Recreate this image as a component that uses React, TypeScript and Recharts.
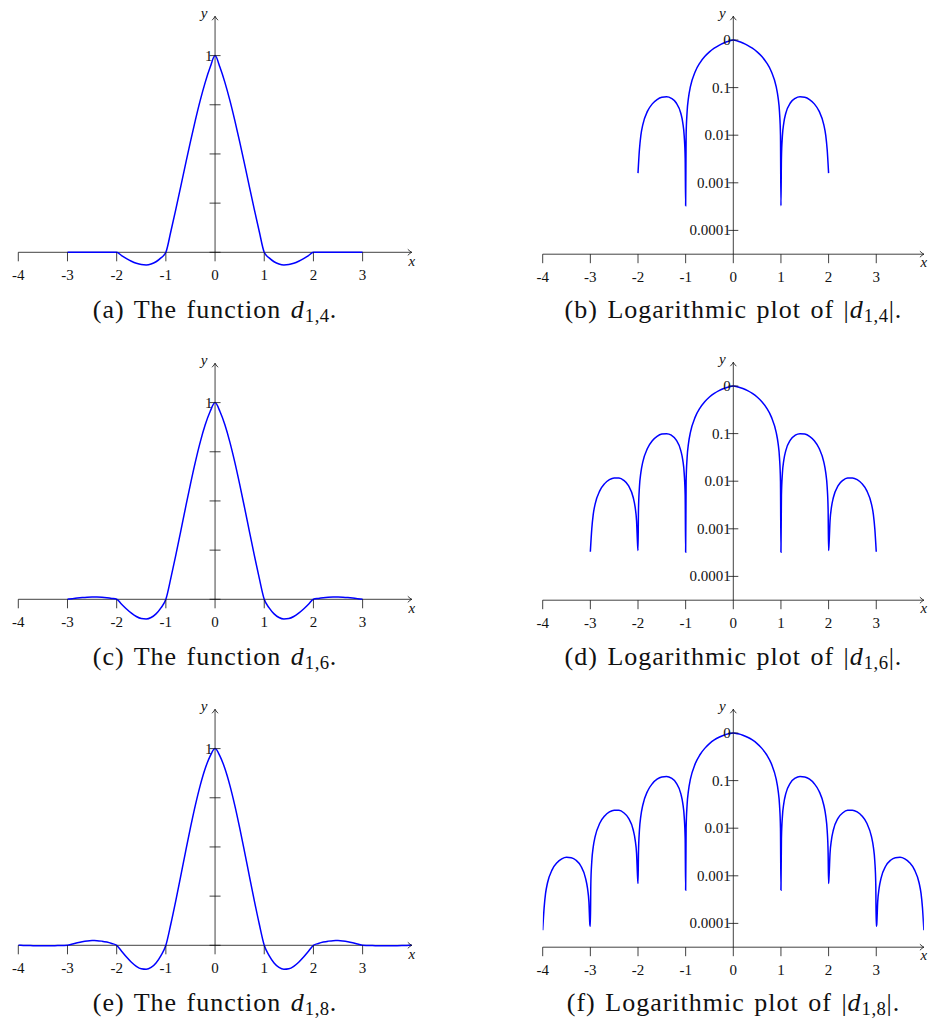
import React from "react";
import { LineChart, Line, XAxis, YAxis, ReferenceLine, ReferenceDot } from "recharts";

const SERIF = '"Liberation Serif", "Times New Roman", serif';
const INK = "#111";
const BLUE = "#0000ff";

// sample grid for the plain plots
const gridX = [
  -4, -3.9, -3.8, -3.7, -3.6, -3.5, -3.4, -3.3, -3.2, -3.1,
  -3, -2.9, -2.8, -2.7, -2.6, -2.5, -2.4, -2.3, -2.2, -2.1,
  -2, -1.9, -1.8, -1.7, -1.6, -1.5, -1.4, -1.3, -1.2, -1.1,
  -1, -0.9, -0.8, -0.7, -0.6, -0.5, -0.4, -0.3, -0.2, -0.1,
  0,
  0.1, 0.2, 0.3, 0.4, 0.5, 0.6, 0.7, 0.8, 0.9, 1,
  1.1, 1.2, 1.3, 1.4, 1.5, 1.6, 1.7, 1.8, 1.9, 2,
  2.1, 2.2, 2.3, 2.4, 2.5, 2.6, 2.7, 2.8, 2.9, 3,
  3.1, 3.2, 3.3, 3.4, 3.5, 3.6, 3.7, 3.8, 3.9, 4,
];

const d14 = [
  null, null, null, null, null, null, null, null, null, null,
  0, 0, 0, 0, 0, 0, 0, 0, 0, 0,
  0, -0.0165, -0.032, -0.0455, -0.056, -0.0625, -0.064, -0.0595, -0.048, -0.0285,
  0, 0.1045, 0.216, 0.3315, 0.448, 0.5625, 0.672, 0.7735, 0.864, 0.9405,
  1,
  0.9405, 0.864, 0.7735, 0.672, 0.5625, 0.448, 0.3315, 0.216, 0.1045, 0,
  -0.0285, -0.048, -0.0595, -0.064, -0.0625, -0.056, -0.0455, -0.032, -0.0165, 0,
  0, 0, 0, 0, 0, 0, 0, 0, 0, 0,
  null, null, null, null, null, null, null, null, null, null,
];

const d16 = [
  null, null, null, null, null, null, null, null, null, null,
  0, 0.003292, 0.006336, 0.008895, 0.010752, 0.011719, 0.011648, 0.010442, 0.008064, 0.004546,
  0, -0.02512, -0.04928, -0.07064, -0.08736, -0.09766, -0.09984, -0.09237, -0.07392, -0.04339,
  0, 0.10607, 0.22176, 0.3431, 0.46592, 0.58594, 0.69888, 0.80057, 0.88704, 0.95461,
  1,
  0.95461, 0.88704, 0.80057, 0.69888, 0.58594, 0.46592, 0.3431, 0.22176, 0.10607, 0,
  -0.04339, -0.07392, -0.09237, -0.09984, -0.09766, -0.08736, -0.07064, -0.04928, -0.02512, 0,
  0.004546, 0.008064, 0.010442, 0.011648, 0.011719, 0.010752, 0.008895, 0.006336, 0.003292, 0,
  null, null, null, null, null, null, null, null, null, null,
];

const d18 = [
  0, -0.000705, -0.001352, -0.001887, -0.002263, -0.002441, -0.002396, -0.002116, -0.001605, -0.000885,
  0, 0.006633, 0.012841, 0.018102, 0.021934, 0.023926, 0.023762, 0.021153, 0.016343, 0.00916,
  0, -0.03037, -0.05992, -0.08625, -0.10693, -0.11963, -0.1222, -0.11279, -0.08989, -0.05246,
  0, 0.10686, 0.22472, 0.34911, 0.47524, 0.59815, 0.71286, 0.81458, 0.89887, 0.96177,
  1,
  0.96177, 0.89887, 0.81458, 0.71286, 0.59815, 0.47524, 0.34911, 0.22472, 0.10686, 0,
  -0.05246, -0.08989, -0.11279, -0.1222, -0.11963, -0.10693, -0.08625, -0.05992, -0.03037, 0,
  0.00916, 0.016343, 0.021153, 0.023762, 0.023926, 0.021934, 0.018102, 0.012841, 0.006633, 0,
  -0.000885, -0.001605, -0.002116, -0.002396, -0.002441, -0.002263, -0.001887, -0.001352, -0.000705, 0,
];

// |d| on a grid that is denser next to the zeros
const logX14 = [
  -2, -1.97, -1.94, -1.9, -1.8, -1.7, -1.6, -1.5, -1.4, -1.3, -1.2, -1.1, -1.06, -1.03, -1.01,
  -1, -0.99, -0.97, -0.94, -0.9, -0.8, -0.7, -0.6, -0.5, -0.4, -0.3, -0.2, -0.1,
  0,
  0.1, 0.2, 0.3, 0.4, 0.5, 0.6, 0.7, 0.8, 0.9, 0.94, 0.97, 0.99, 1,
  1.01, 1.03, 1.06, 1.1, 1.2, 1.3, 1.4, 1.5, 1.6, 1.7, 1.8, 1.9, 1.94, 1.97, 2,
];
const logY14 = [
  0.0016, 0.005, 0.00996, 0.0165, 0.032, 0.0455, 0.056, 0.0625, 0.064, 0.0595, 0.048, 0.0285, 0.01824, 0.00956, 0.00328,
  0.00033, 0.01005, 0.0304, 0.0617, 0.1045, 0.216, 0.3315, 0.448, 0.5625, 0.672, 0.7735, 0.864, 0.9405,
  1,
  0.9405, 0.864, 0.7735, 0.672, 0.5625, 0.448, 0.3315, 0.216, 0.1045, 0.0617, 0.0304, 0.01005, 0.00033,
  0.00328, 0.00956, 0.01824, 0.0285, 0.048, 0.0595, 0.064, 0.0625, 0.056, 0.0455, 0.032, 0.0165, 0.00996, 0.005, 0.0016,
];

const logX16 = [
  -3, -2.97, -2.94, -2.9, -2.8, -2.7, -2.6, -2.5, -2.4, -2.3, -2.2, -2.1, -2.06, -2.03, -2.01,
  -2, -1.99, -1.97, -1.94, -1.9, -1.8, -1.7, -1.6, -1.5, -1.4, -1.3, -1.2, -1.1, -1.06, -1.03, -1.01,
  -1, -0.99, -0.97, -0.94, -0.9, -0.8, -0.7, -0.6, -0.5, -0.4, -0.3, -0.2, -0.1,
  0,
  0.1, 0.2, 0.3, 0.4, 0.5, 0.6, 0.7, 0.8, 0.9, 0.94, 0.97, 0.99, 1,
  1.01, 1.03, 1.06, 1.1, 1.2, 1.3, 1.4, 1.5, 1.6, 1.7, 1.8, 1.9, 1.94, 1.97, 1.99, 2,
  2.01, 2.03, 2.06, 2.1, 2.2, 2.3, 2.4, 2.5, 2.6, 2.7, 2.8, 2.9, 2.94, 2.97, 3,
];
const logY16 = [
  0.00033, 0.000999, 0.001991, 0.003292, 0.006336, 0.008895, 0.01075, 0.01172, 0.01165, 0.01044, 0.008064, 0.004546, 0.002842, 0.001461, 0.000496,
  0.00035, 0.0025, 0.00753, 0.01509, 0.02512, 0.04928, 0.07064, 0.08736, 0.09766, 0.09984, 0.09237, 0.07392, 0.04339, 0.02761, 0.0144, 0.004933,
  0.00032, 0.01007, 0.03058, 0.06227, 0.1061, 0.2218, 0.3431, 0.4659, 0.5859, 0.6989, 0.8006, 0.887, 0.9546,
  1,
  0.9546, 0.887, 0.8006, 0.6989, 0.5859, 0.4659, 0.3431, 0.2218, 0.1061, 0.06227, 0.03058, 0.01007, 0.00032,
  0.004933, 0.0144, 0.02761, 0.04339, 0.07392, 0.09237, 0.09984, 0.09766, 0.08736, 0.07064, 0.04928, 0.02512, 0.01509, 0.00753, 0.0025, 0.00035,
  0.000496, 0.001461, 0.002842, 0.004546, 0.008064, 0.01044, 0.01165, 0.01172, 0.01075, 0.008895, 0.006336, 0.003292, 0.001991, 0.000999, 0.00033,
];

const logX18 = [
  -4, -3.97, -3.94, -3.9, -3.8, -3.7, -3.6, -3.5, -3.4, -3.3, -3.2, -3.1, -3.06, -3.03, -3.01,
  -3, -2.99, -2.97, -2.94, -2.9, -2.8, -2.7, -2.6, -2.5, -2.4, -2.3, -2.2, -2.1, -2.06, -2.03, -2.01,
  -2, -1.99, -1.97, -1.94, -1.9, -1.8, -1.7, -1.6, -1.5, -1.4, -1.3, -1.2, -1.1, -1.06, -1.03, -1.01,
  -1, -0.99, -0.97, -0.94, -0.9, -0.8, -0.7, -0.6, -0.5, -0.4, -0.3, -0.2, -0.1,
  0,
  0.1, 0.2, 0.3, 0.4, 0.5, 0.6, 0.7, 0.8, 0.9, 0.94, 0.97, 0.99, 1,
  1.01, 1.03, 1.06, 1.1, 1.2, 1.3, 1.4, 1.5, 1.6, 1.7, 1.8, 1.9, 1.94, 1.97, 1.99, 2,
  2.01, 2.03, 2.06, 2.1, 2.2, 2.3, 2.4, 2.5, 2.6, 2.7, 2.8, 2.9, 2.94, 2.97, 2.99, 3,
  3.01, 3.03, 3.06, 3.1, 3.2, 3.3, 3.4, 3.5, 3.6, 3.7, 3.8, 3.9, 3.94, 3.97, 4,
];
const logY18 = [
  0.000072, 0.000214, 0.000426, 0.000705, 0.001352, 0.001887, 0.002263, 0.002441, 0.002396, 0.002116, 0.001605, 0.000885, 0.000549, 0.000281, 0.0000947,
  0.000087, 0.000667, 0.002003, 0.004001, 0.006633, 0.01284, 0.0181, 0.02193, 0.02393, 0.02376, 0.02115, 0.01634, 0.00916, 0.00571, 0.00293, 0.000992,
  0.00069, 0.003007, 0.009057, 0.01819, 0.03037, 0.05992, 0.08625, 0.1069, 0.1196, 0.1222, 0.1128, 0.08989, 0.05246, 0.03329, 0.01732, 0.005925,
  0.0005, 0.01007, 0.03066, 0.06257, 0.1069, 0.2247, 0.3491, 0.4752, 0.5982, 0.7129, 0.8146, 0.8989, 0.9618,
  1,
  0.9618, 0.8989, 0.8146, 0.7129, 0.5982, 0.4752, 0.3491, 0.2247, 0.1069, 0.06257, 0.03066, 0.01007, 0.0005,
  0.005925, 0.01732, 0.03329, 0.05246, 0.08989, 0.1128, 0.1222, 0.1196, 0.1069, 0.08625, 0.05992, 0.03037, 0.01819, 0.009057, 0.003007, 0.00069,
  0.000992, 0.00293, 0.00571, 0.00916, 0.01634, 0.02115, 0.02376, 0.02393, 0.02193, 0.0181, 0.01284, 0.006633, 0.004001, 0.002003, 0.000667, 0.000087,
  0.0000947, 0.000281, 0.000549, 0.000885, 0.001605, 0.002116, 0.002396, 0.002441, 0.002263, 0.001887, 0.001352, 0.000705, 0.000426, 0.000214, 0.000072,
];

const xTicks = [-4, -3, -2, -1, 0, 1, 2, 3];
const linTicks = [0, 0.25, 0.5, 0.75, 1];
const logTicks = [1, 0.1, 0.01, 0.001, 0.0001];
const logTickLabels = ["0", "0.1", "0.01", "0.001", "0.0001"];

const LOG_MIN = 10 ** -4.5;
const LOG_MAX = 10 ** 0.5;

const labelStyle = { fontFamily: SERIF, fontSize: 15, fill: INK };

const XTick = ({ cx, cy, label }: any) => (
  <g>
    <line x1={cx} y1={cy} x2={cx} y2={cy + 9} stroke={INK} strokeWidth={0.8} />
    <text x={cx} y={cy + 27.5} textAnchor="middle" {...labelStyle}>
      {label}
    </text>
  </g>
);

const YTick = ({ cx, cy, label, half }: any) => (
  <g>
    <line x1={cx - half} y1={cy} x2={cx + half} y2={cy} stroke={INK} strokeWidth={0.8} />
    {label ? (
      <text x={cx - 2.5} y={cy + 5} textAnchor="end" {...labelStyle}>
        {label}
      </text>
    ) : null}
  </g>
);

// tikz-style "->" tips, with the axis name set next to them
const ArrowRight = ({ cx, cy, dy }: any) => (
  <g>
    <path
      d={`M${cx - 4} ${cy - 3}Q${cx - 1.5} ${cy - 0.6} ${cx} ${cy}Q${cx - 1.5} ${cy + 0.6} ${cx - 4} ${cy + 3}`}
      fill="none"
      stroke={INK}
      strokeWidth={0.8}
    />
    <text x={cx} y={cy + dy} textAnchor="middle" fontStyle="italic" {...labelStyle}>
      x
    </text>
  </g>
);

const ArrowUp = ({ cx, cy }: any) => (
  <g>
    <path
      d={`M${cx - 3} ${cy + 4}Q${cx - 0.6} ${cy + 1.5} ${cx} ${cy}Q${cx + 0.6} ${cy + 1.5} ${cx + 3} ${cy + 4}`}
      fill="none"
      stroke={INK}
      strokeWidth={0.8}
    />
    <text x={cx - 11} y={cy + 1.5} textAnchor="middle" fontStyle="italic" {...labelStyle}>
      y
    </text>
  </g>
);

function LinearPanel({ top, ys }: { top: number; ys: (number | null)[] }) {
  const rows = gridX.map((x, i) => ({ x, y: ys[i] }));
  return (
    <div style={{ position: "absolute", left: 0, top }}>
      <LineChart
        width={431}
        height={300}
        data={rows}
        margin={{ top: 16.26, right: 19.2, bottom: 8.36, left: 18.3 }}
      >
        <XAxis dataKey="x" type="number" domain={[-4, 4]} allowDataOverflow hide />
        <YAxis type="number" domain={[-0.2, 1.2]} allowDataOverflow hide />
        <ReferenceLine segment={[{ x: -4, y: 0 }, { x: 4, y: 0 }]} stroke={INK} strokeWidth={0.8} ifOverflow="visible" />
        <ReferenceLine segment={[{ x: 0, y: 0 }, { x: 0, y: 1.2 }]} stroke={INK} strokeWidth={0.8} ifOverflow="visible" />
        {xTicks.map((v) => (
          <ReferenceDot key={`x${v}`} x={v} y={0} ifOverflow="visible" shape={(p: any) => <XTick {...p} label={String(v)} />} />
        ))}
        {linTicks.map((v) => (
          <ReferenceDot
            key={`y${v}`}
            x={0}
            y={v}
            ifOverflow="visible"
            shape={(p: any) => <YTick {...p} half={5.5} label={v === 1 ? "1" : ""} />}
          />
        ))}
        <ReferenceDot x={4} y={0} ifOverflow="visible" shape={(p: any) => <ArrowRight {...p} dy={14} />} />
        <ReferenceDot x={0} y={1.2} ifOverflow="visible" shape={(p: any) => <ArrowUp {...p} />} />
        <Line
          type="monotone"
          dataKey="y"
          stroke={BLUE}
          strokeWidth={1.5}
          dot={false}
          activeDot={false}
          isAnimationActive={false}
        />
      </LineChart>
    </div>
  );
}

function LogPanel({ top, xs, ys }: { top: number; xs: number[]; ys: number[] }) {
  const rows = xs.map((x, i) => ({ x, y: ys[i] }));
  return (
    <div style={{ position: "absolute", left: 520, top }}>
      <LineChart
        width={411}
        height={300}
        data={rows}
        margin={{ top: 16.2, right: 7.1, bottom: 45.8, left: 22.7 }}
      >
        <XAxis dataKey="x" type="number" domain={[-4, 4]} allowDataOverflow hide />
        <YAxis type="number" scale="log" domain={[LOG_MIN, LOG_MAX]} allowDataOverflow hide />
        <ReferenceLine
          segment={[{ x: -4, y: LOG_MIN }, { x: 4, y: LOG_MIN }]}
          stroke={INK}
          strokeWidth={0.8}
          ifOverflow="visible"
        />
        <ReferenceLine
          segment={[{ x: 0, y: LOG_MIN }, { x: 0, y: LOG_MAX }]}
          stroke={INK}
          strokeWidth={0.8}
          ifOverflow="visible"
        />
        {xTicks.map((v) => (
          <ReferenceDot key={`x${v}`} x={v} y={LOG_MIN} ifOverflow="visible" shape={(p: any) => <XTick {...p} label={String(v)} />} />
        ))}
        {logTicks.map((v, i) => (
          <ReferenceDot
            key={`y${v}`}
            x={0}
            y={v}
            ifOverflow="visible"
            shape={(p: any) => <YTick {...p} half={5} label={logTickLabels[i]} />}
          />
        ))}
        <ReferenceDot x={4} y={LOG_MIN} ifOverflow="visible" shape={(p: any) => <ArrowRight {...p} dy={12.5} />} />
        <ReferenceDot x={0} y={LOG_MAX} ifOverflow="visible" shape={(p: any) => <ArrowUp {...p} />} />
        <Line
          type="monotone"
          dataKey="y"
          stroke={BLUE}
          strokeWidth={1.5}
          dot={false}
          activeDot={false}
          isAnimationActive={false}
        />
      </LineChart>
    </div>
  );
}

const captionStyle: React.CSSProperties = {
  position: "absolute",
  fontFamily: SERIF,
  fontSize: 26,
  lineHeight: "26px",
  letterSpacing: 1,
  wordSpacing: 2,
  color: INK,
  textAlign: "center",
  whiteSpace: "nowrap",
};

const Sub = ({ children }: { children: React.ReactNode }) => (
  <span style={{ fontSize: "0.72em", verticalAlign: "-0.22em", letterSpacing: 0.5 }}>{children}</span>
);

function Caption({ left, width, baseline, children }: any) {
  return <div style={{ ...captionStyle, left, width, top: baseline - 21.8 }}>{children}</div>;
}

export default function App() {
  return (
    <div
      style={{
        position: "absolute",
        left: 0,
        top: 0,
        width: 931,
        height: 1023,
        background: "#fff",
        overflow: "hidden",
      }}
    >
      <LinearPanel top={0} ys={d14} />
      <LinearPanel top={346.5} ys={d16} />
      <LinearPanel top={693.2} ys={d18} />
      <LogPanel top={0} xs={logX14} ys={logY14} />
      <LogPanel top={346.3} xs={logX16} ys={logY16} />
      <LogPanel top={692.7} xs={logX18} ys={logY18} />

      <Caption left={0} width={430} baseline={319}>
        (a) The function <i>d</i>
        <Sub>1,4</Sub>.
      </Caption>
      <Caption left={536} width={395} baseline={319}>
        (b) Logarithmic plot of |<i>d</i>
        <Sub>1,4</Sub>|.
      </Caption>
      <Caption left={0} width={430} baseline={665.5}>
        (c) The function <i>d</i>
        <Sub>1,6</Sub>.
      </Caption>
      <Caption left={536} width={395} baseline={665.5}>
        (d) Logarithmic plot of |<i>d</i>
        <Sub>1,6</Sub>|.
      </Caption>
      <Caption left={0} width={430} baseline={1012}>
        (e) The function <i>d</i>
        <Sub>1,8</Sub>.
      </Caption>
      <Caption left={536} width={395} baseline={1012}>
        (f) Logarithmic plot of |<i>d</i>
        <Sub>1,8</Sub>|.
      </Caption>
    </div>
  );
}
